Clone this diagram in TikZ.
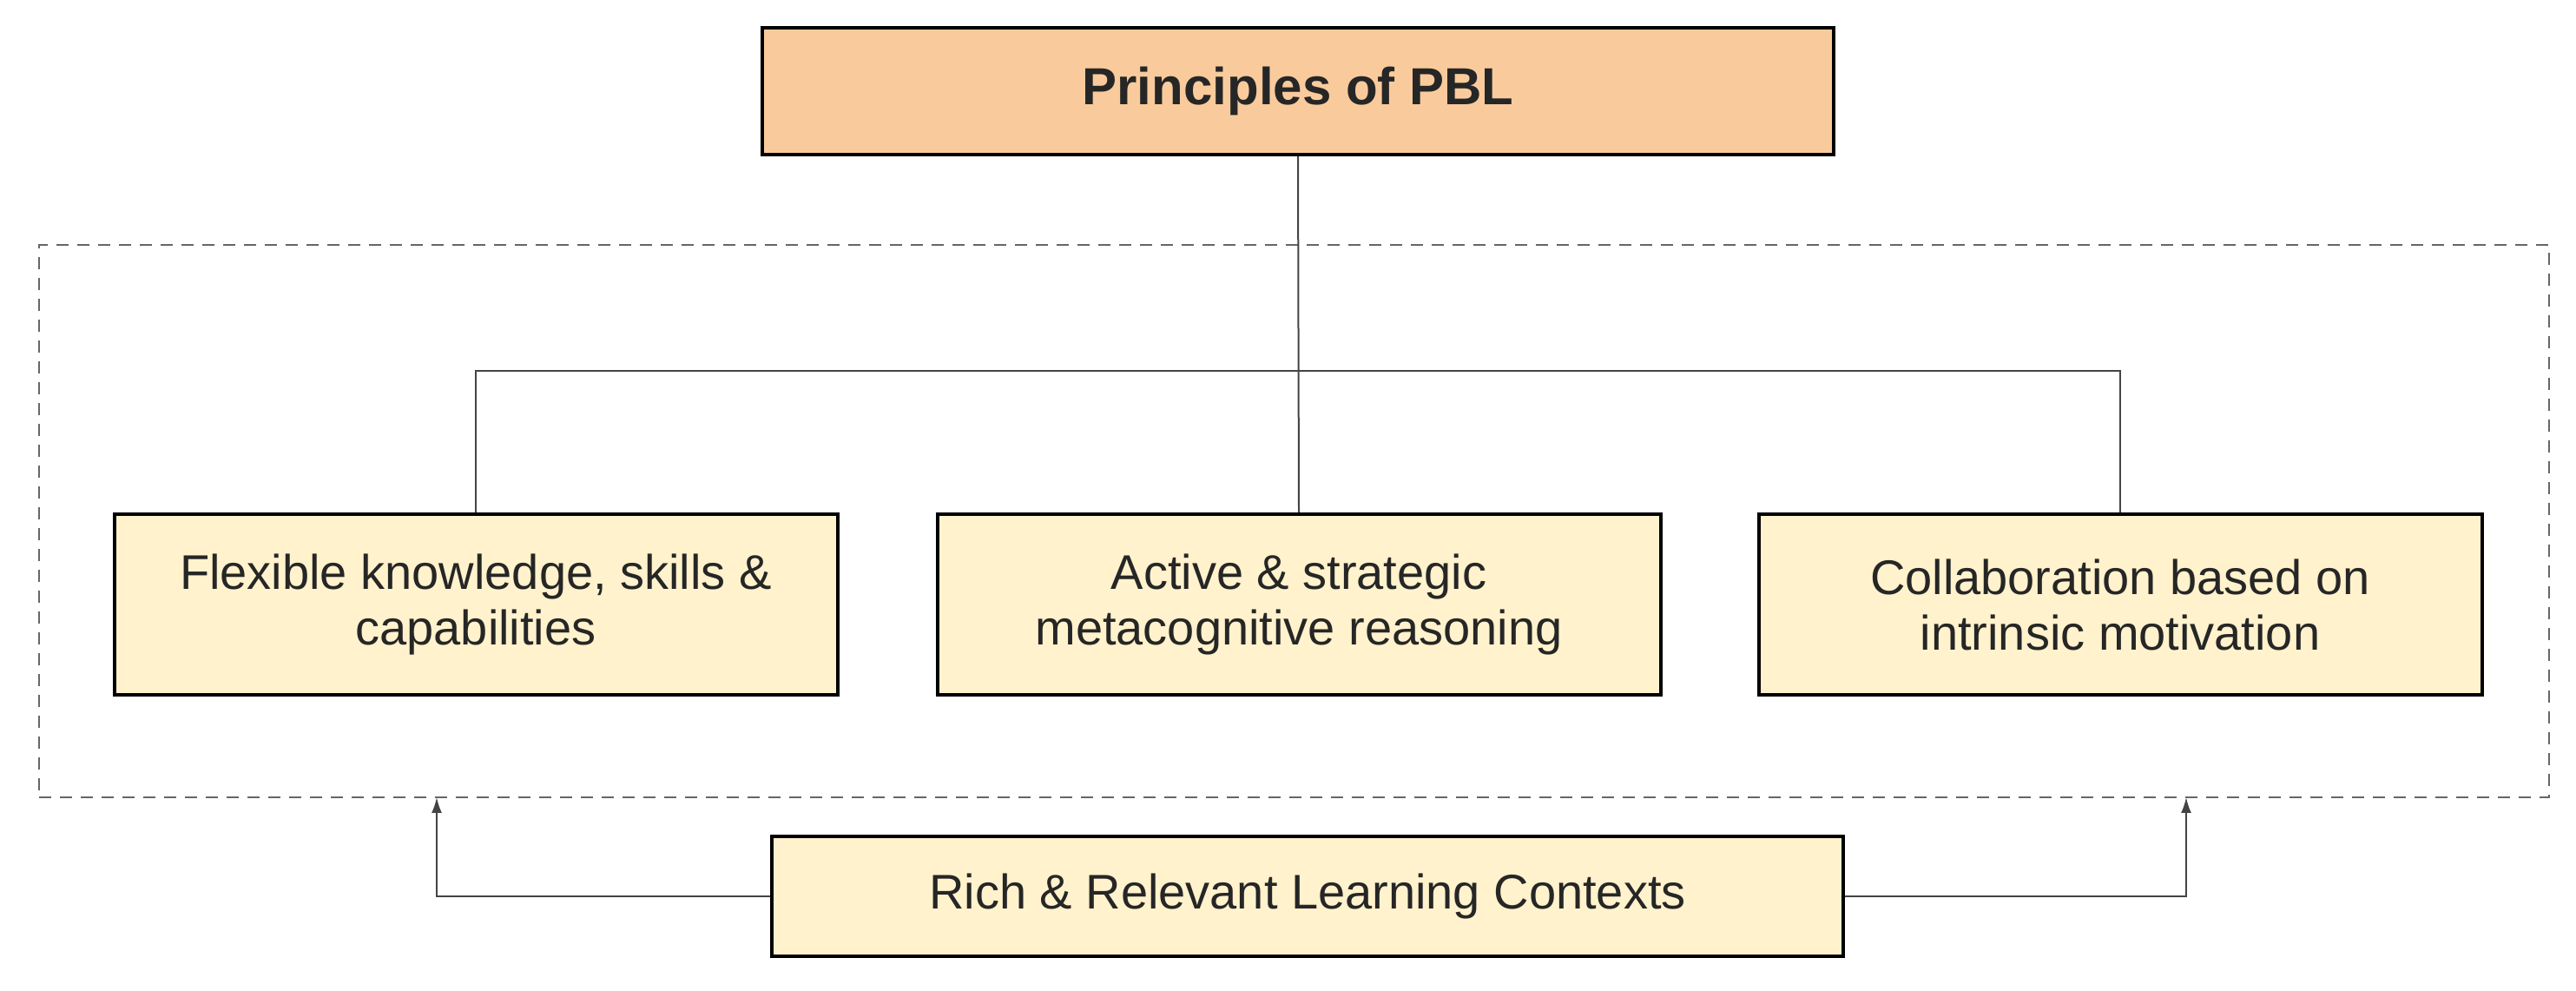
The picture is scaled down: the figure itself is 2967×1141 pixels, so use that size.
\documentclass[tikz,border=0pt]{standalone}
\usepackage{fontspec}
\setmainfont{Liberation Sans}
\usetikzlibrary{arrows.meta}
\definecolor{peach}{HTML}{F9CB9C}
\definecolor{cream}{HTML}{FFF2CC}
\definecolor{wire}{HTML}{444444}
\begin{document}
\begin{tikzpicture}[x=0.25pt,y=-0.25pt,
  box/.style={draw=black, line width=1pt, fill=cream, align=center, text=black!85,
    font=\fontsize{14}{16}\selectfont, minimum width=208.25pt, minimum height=52pt},
  wirel/.style={draw=wire, line width=0.5pt},
  arr/.style={wirel, -{Latex[length=4.5pt,width=3pt]}}]
\useasboundingbox (0,0) rectangle (2967,1141);
% outer dashed frame
\node[draw=black!60, line width=0.5pt, dash pattern=on 3.5pt off 2.5pt,
  minimum width=722.75pt, minimum height=159pt] (frame) at (1490.5,600) {};
\node[box, fill=peach, minimum width=308.5pt, minimum height=36.5pt,
  font=\fontsize{15}{17}\selectfont\bfseries] (pbl) at (1495,105) {Principles of PBL};
\node[box] (flex) at (548,696) {Flexible knowledge, skills \&\\capabilities};
\node[box] (meta) at (1496,696) {Active \& strategic\\metacognitive reasoning};
\node[box] (collab) at (2442,696) {Collaboration based on\\intrinsic motivation};
\node[box, minimum width=308.5pt, minimum height=34.5pt] (ctx) at (1506,1032) {Rich \& Relevant Learning Contexts};
\coordinate (bus) at (1496,427);
\coordinate (inl) at (503,918);
\coordinate (inr) at (2518,918);
\draw[wirel] (pbl.south) -- (meta.north);
\draw[wirel] (flex.north) |- (bus) -| (collab.north);
\draw[arr] (ctx.west) -| (inl);
\draw[arr] (ctx.east) -| (inr);
\end{tikzpicture}
\end{document}
